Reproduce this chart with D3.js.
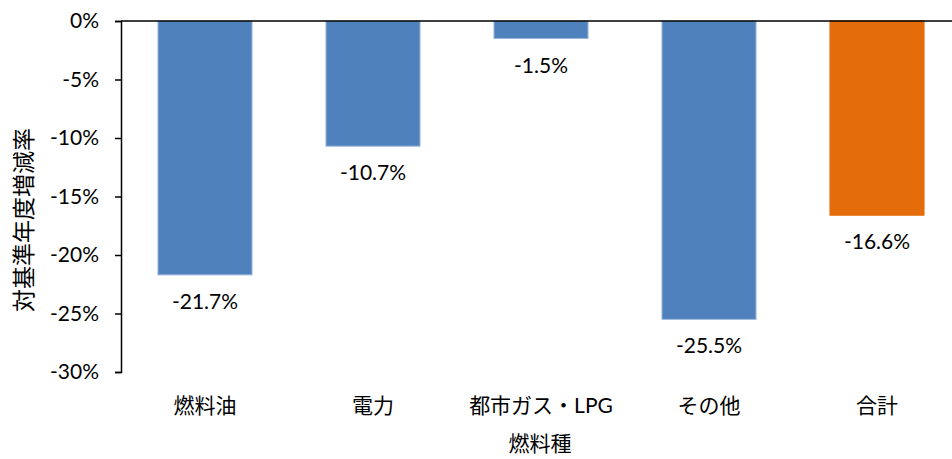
<!DOCTYPE html>
<html>
<head>
<meta charset="utf-8">
<script src="https://cdn.jsdelivr.net/npm/d3@7"></script>
<style>
  body { margin: 0; background: #fff; }
  text { font-family: Lato, "Noto Sans CJK JP", sans-serif; fill: #000; }
</style>
</head>
<body>
<div id="chart"></div>
<script>
// categories and values (% change vs. base year)
const categories = ['燃料油', '電力', '都市ガス・LPG', 'その他', '合計'];
const values = [-21.7, -10.7, -1.5, -25.5, -16.6];
const barColors = ['#4F81BD', '#4F81BD', '#4F81BD', '#4F81BD', '#E46C0A'];
const yTicks = [0, -5, -10, -15, -20, -25, -30];

const width = 952;
const height = 459;

const svg = d3.select('#chart')
  .append('svg')
  .attr('width', width)
  .attr('height', height);

// plot area
const plotLeft = 121;
const plotTop = 21;
const plotBottom = 372;

const x = d3.scaleBand()
  .domain(categories)
  .range([plotLeft, plotLeft + 168 * categories.length])
  .paddingInner(0.44)
  .paddingOuter(0.22);

const y = d3.scaleLinear()
  .domain([0, -30])
  .range([plotTop, plotBottom]);

// bars
svg.append('g')
  .selectAll('rect')
  .data(values)
  .join('rect')
  .attr('x', (d, i) => x(categories[i]))
  .attr('y', y(0))
  .attr('width', x.bandwidth())
  .attr('height', d => y(d) - y(0))
  .attr('fill', (d, i) => barColors[i])
  .attr('stroke', (d, i) => i === 4 ? '#E46C0A' : '#9db7da')
  .attr('stroke-width', 1);

// value labels
svg.append('g')
  .selectAll('text')
  .data(values)
  .join('text')
  .attr('x', (d, i) => x(categories[i]) + x.bandwidth() / 2)
  .attr('y', d => y(d) + 34)
  .attr('text-anchor', 'middle')
  .style('font-size', '21px')
  .text(d => d.toFixed(1) + '%');

// zero line across the plot
svg.append('line')
  .attr('x1', plotLeft)
  .attr('x2', width)
  .attr('y1', y(0))
  .attr('y2', y(0))
  .attr('stroke', '#000')
  .attr('stroke-width', 1.5);

// y axis
const yAxis = svg.append('g')
  .attr('transform', `translate(${plotLeft},0)`)
  .call(d3.axisLeft(y).tickValues(yTicks).tickSize(6).tickFormat(d => d + '%'));

yAxis.select('.domain').attr('stroke', '#000').attr('stroke-width', 1.5);
yAxis.selectAll('.tick line').attr('stroke', '#000').attr('stroke-width', 1.5);
yAxis.selectAll('.tick text')
  .attr('x', -22)
  .style('font-size', '21px')
  .style('font-family', 'Lato, "Noto Sans CJK JP", sans-serif');

// category labels
svg.append('g')
  .selectAll('text')
  .data(categories)
  .join('text')
  .attr('x', d => x(d) + x.bandwidth() / 2)
  .attr('y', 413)
  .attr('text-anchor', 'middle')
  .style('font-size', '21px')
  .text(d => d);

// axis titles
svg.append('text')
  .attr('x', 540)
  .attr('y', 451)
  .attr('text-anchor', 'middle')
  .style('font-size', '21px')
  .text('燃料種');

svg.append('text')
  .attr('transform', 'translate(32,220) rotate(-90)')
  .attr('text-anchor', 'middle')
  .style('font-size', '23px')
  .text('対基準年度増減率');
</script>
</body>
</html>
